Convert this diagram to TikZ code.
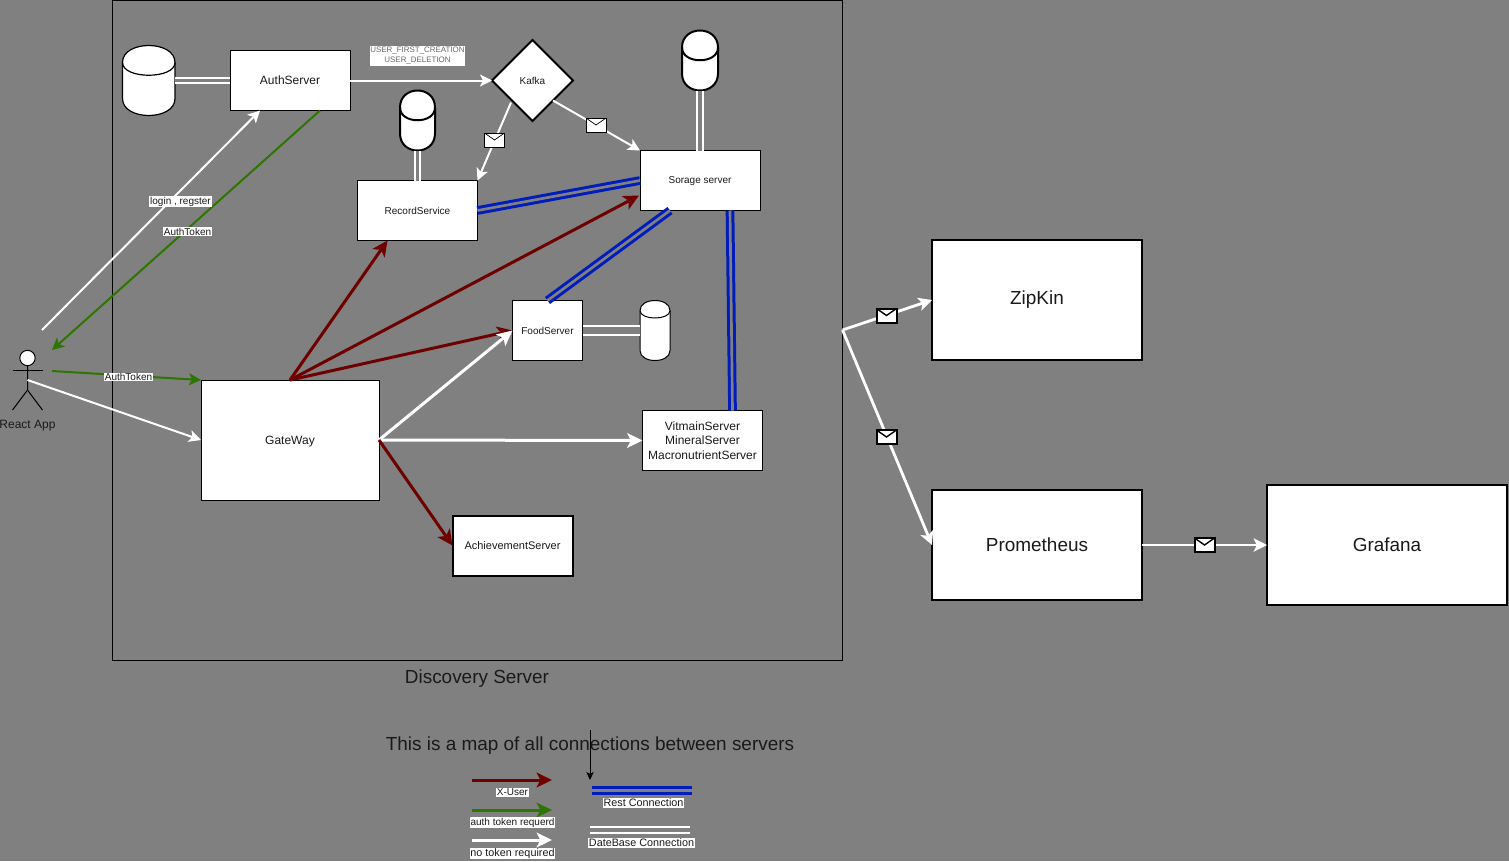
\documentclass[tikz,border=0pt]{standalone}
\usepackage{fontspec}
\setmainfont{Liberation Sans}
\usetikzlibrary{arrows.meta,calc,shapes.geometric}
\definecolor{bg}{HTML}{808080}
\definecolor{redline}{HTML}{6F0000}
\definecolor{greenline}{HTML}{2D7600}
\definecolor{blueline}{HTML}{001DBC}
\definecolor{ink}{HTML}{1A1A1A}
\tikzset{
  sz/.style 2 args={minimum width=#1*0.75pt,minimum height=#2*0.75pt,inner sep=0pt,outer sep=0pt},
  fsten/.style={font=\fontsize{7.5pt}{8.8pt}\selectfont},
  fseleven/.style={font=\fontsize{8.25pt}{9.7pt}\selectfont},
  fstwelve/.style={font=\fontsize{9pt}{11pt}\selectfont},
  fsbig/.style={font=\fontsize{14.2pt}{16pt}\selectfont},
  box/.style={draw=black,fill=white,line width=0.75pt,text=ink,align=center},
  boxthick/.style={box,line width=1.5pt},
  ghost/.style={inner sep=0pt,outer sep=0pt},
  tag/.style={fill=white,inner sep=0.6pt,text=ink,align=center,fsten},
  tagwide/.style={tag,font=\fontsize{8.1pt}{9pt}\selectfont},
  plain/.style={text=ink,inner sep=0pt,fsbig},
  envelope/.style={draw=black,fill=white,line width=#1,minimum width=15pt,minimum height=10.5pt,inner sep=0pt,outer sep=0pt,
    path picture={\draw[black,line width=#1*0.7]
      (path picture bounding box.north west) -- (path picture bounding box.center) -- (path picture bounding box.north east);}},
  tipS/.style={-{Stealth[length=9pt,width=9pt,inset=2.2pt]}},
  tipL/.style={-{Stealth[length=11.5pt,width=11pt,inset=2.8pt]}},
  wire/.style={draw=white,line width=1.5pt,tipS},
  wirefat/.style={draw=white,line width=2.25pt,tipL},
  wireout/.style={draw=white,line width=2.1pt,-{Stealth[length=10pt,width=10pt,inset=2.4pt]}},
  redwire/.style={draw=redline,line width=2.25pt,tipL},
  greenwire/.style={draw=greenline,line width=1.5pt,tipS},
  greenfat/.style={draw=greenline,line width=2.25pt,tipL},
  dbline/.style={draw=white,line width=1.5pt,double=bg,double distance=2.4pt},
  dbwide/.style={draw=white,line width=1.5pt,double=bg,double distance=5.2pt},
  restline/.style={draw=blueline,line width=2.25pt,double=bg,double distance=2pt},
}
\newcommand{\cylin}[7]{% name, left, top, w, h, dy, line width
  \pgfmathsetmacro{\cxa}{#2}\pgfmathsetmacro{\cxb}{#2+#4}
  \pgfmathsetmacro{\cya}{#3+#6}\pgfmathsetmacro{\cyb}{#3-#6/3}
  \pgfmathsetmacro{\cyc}{#3+#5-#6}\pgfmathsetmacro{\cyd}{#3+#5+#6/3}
  \pgfmathsetmacro{\cye}{#3+2*#6}
  \node[ghost,sz={#4}{#5}] (#1) at (#2+#4/2,#3+#5/2) {};
  \draw[draw=black,fill=white,line width=#7]
    (\cxa,\cya) .. controls (\cxa,\cyb) and (\cxb,\cyb) .. (\cxb,\cya)
    -- (\cxb,\cyc) .. controls (\cxb,\cyd) and (\cxa,\cyd) .. (\cxa,\cyc) -- cycle;
  \draw[draw=black,line width=#7]
    (\cxa,\cya) .. controls (\cxa,\cye) and (\cxb,\cye) .. (\cxb,\cya);
}
\begin{document}
\begin{tikzpicture}[x=0.75pt,y=-0.75pt]
\fill[bg] (0,0) rectangle (1509,861);
\path[use as bounding box] (0,0) rectangle (1509,861);

% frame
\node[ghost,draw=black,line width=0.75pt,sz={730}{660}] (frame) at (477.5,330.5) {};

% servers
\node[box,sz={120}{60},fstwelve] (auth) at (290,80.5) {AuthServer};
\node[boxthick,diamond,sz={81}{81},fsten] (kafka) at (532.5,80.5) {Kafka};
\node[box,sz={120}{60},fsten] (record) at (417.5,210.5) {RecordService};
\node[box,sz={120}{60},fsten,text depth=0pt] (storage) at (700,180.5) {Sorage server};
\node[box,sz={70}{60},fsten] (food) at (547.5,330.5) {FoodServer};
\node[box,sz={120}{60},fstwelve] (vitamin) at (702.5,440.5) {VitmainServer\\MineralServer\\MacronutrientServer};
\node[box,sz={178}{120},fstwelve,text depth=0pt] (gateway) at (290,440) {GateWay};
\node[boxthick,sz={120}{60},fseleven] (achieve) at (512.5,545.5) {AchievementServer};
\node[boxthick,sz={210}{120},fsbig] (zipkin) at (1037,300) {ZipKin};
\node[boxthick,sz={210}{110},fsbig] (prom) at (1037,545) {Prometheus};
\node[boxthick,sz={240}{120},fsbig] (grafana) at (1387,545) {Grafana};

% databases
\cylin{dba}{122.5}{45.5}{52.5}{70}{17}{0.9pt}
\cylin{dbb}{400}{90.5}{35}{60}{17}{1.5pt}
\cylin{dbc}{682}{30.5}{36}{60}{17}{1.5pt}
\cylin{dbd}{640}{300.5}{30}{60}{10}{0.75pt}

% database connections
\draw[dbline] (dba.east) -- (auth.west);
\draw[dbline] (dbb.south) -- (record.north);
\draw[dbline] (dbc.south) -- (storage.north);
\draw[dbwide] (food.east) -- (dbd.west);

% rest connections
\draw[restline] (record.east) -- (storage.west);
\draw[restline] (food.north) -- ($(storage.south east)+(-90,0)$);
\draw[restline] ($(storage.south)+(30,0)$) -- ($(vitamin.north)+(30,0)$);

% actor
\node[ghost,sz={30}{60}] (actor) at (27.5,380) {};
\node[draw=black,fill=white,circle,line width=0.75pt,minimum size=11.5pt,inner sep=0pt,outer sep=0pt] (head) at (27.5,358) {};
\coordinate (hip) at (27.5,390);
\draw[black,line width=0.75pt] (head.south) -- (hip) -- (actor.south west);
\draw[black,line width=0.75pt] (hip) -- (actor.south east);
\draw[black,line width=0.75pt] (12.5,370) -- (42.5,370);
\node[plain,fstwelve] (reactlabel) at (27.5,425.5) {React App};

% free ends
\coordinate (loginstart) at (42,330);
\coordinate (tokenend) at (52,350);
\coordinate (tokenstart) at (52,371);
\coordinate (actormid) at (27.5,380);
\coordinate (hub) at (842.5,330);

% connectors
\draw[wire] (loginstart) -- ($(auth.south west)!0.25!(auth.south east)$);
\draw[greenwire] ($(auth.south west)!0.75!(auth.south east)$) -- (tokenend);
\draw[greenwire] (tokenstart) -- (gateway.north west);
\draw[wire] (actormid) -- (gateway.west);
\draw[wire] (auth.east) -- (kafka.west);
\draw[wire] ($(kafka.west)+(19,22)$) -- (record.north east);
\draw[wire] ($(kafka.east)+(-20,20)$) -- (storage.north west);
\draw[redwire] (gateway.north) -- ($(record.south west)!0.25!(record.south east)$);
\draw[redwire] (gateway.north) -- ($(storage.west)+(-1,15)$);
\draw[redwire] (gateway.north) -- (food.west);
\draw[wirefat] (gateway.east) -- (food.west);
\draw[wirefat] (gateway.east) -- (vitamin.west);
\draw[redwire] (gateway.east) -- (achieve.west);
\draw[wireout] (hub) -- (zipkin.west);
\draw[wireout] (hub) -- (prom.west);
\draw[wireout] (prom.east) -- (grafana.west);

% envelopes
\node[envelope=0.75pt] (enva) at (494.5,140) {};
\node[envelope=0.75pt] (envb) at (596,125) {};
\node[envelope=1.5pt] (envc) at (886.5,315.5) {};
\node[envelope=1.5pt] (envd) at (886.5,437) {};
\node[envelope=1.5pt] (enve) at (1204.5,545) {};

% labels
\node[tag,text=black!60,font=\fontsize{5.95pt}{7.5pt}\selectfont,minimum width=71.25pt,minimum height=15pt,inner sep=0pt] (eventtag) at (417.5,56) {USER\_FIRST\_CREATION\\USER\_DELETION};
\node[tag] (logintag) at (180.5,201.5) {login , regster};
\node[tag] (tokentaga) at (187.5,231.5) {AuthToken};
\node[tag] (tokentagb) at (128.5,377) {AuthToken};

% titles
\node[plain] (discovery) at (477,678.5) {Discovery Server};
\node[plain] (maptitle) at (590,745.5) {This is a map of all connections between servers};

% legend
\coordinate (blacka) at (590,730);
\coordinate (blackb) at (590,780);
\draw[black,line width=0.75pt,-{Stealth[length=6pt,width=5.5pt,inset=1.4pt]}] (blacka) -- (blackb);
\coordinate (lega) at (472,780); \coordinate (legb) at (552,780);
\coordinate (legc) at (472,810); \coordinate (legd) at (552,810);
\coordinate (lege) at (472,840); \coordinate (legf) at (552,840);
\coordinate (legg) at (592,790.5); \coordinate (legh) at (692,790.5);
\coordinate (legi) at (590,830); \coordinate (legj) at (690,830);
\draw[redwire] (lega) -- (legb);
\draw[greenfat] (legc) -- (legd);
\draw[wirefat] (lege) -- (legf);
\draw[restline] (legg) -- (legh);
\draw[dbline] (legi) -- (legj);
\node[tag] (legtaga) at (512.5,792.5) {X-User};
\node[tag] (legtagb) at (512.5,822.5) {auth token requerd};
\node[tagwide] (legtagc) at (512.5,853.5) {no token required};
\node[tagwide] (legtagd) at (643.5,803) {Rest Connection};
\node[tagwide] (legtage) at (641.5,843) {DateBase Connection};
\end{tikzpicture}
\end{document}
